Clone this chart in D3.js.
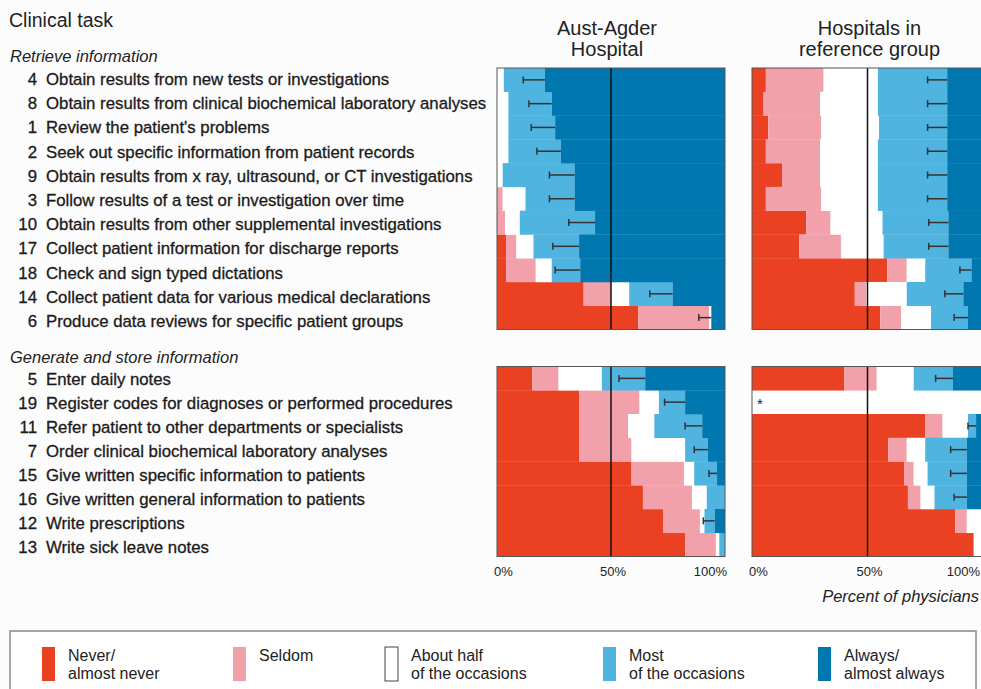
<!DOCTYPE html>
<html>
<head>
<meta charset="utf-8">
<script src="https://cdn.jsdelivr.net/npm/d3@7"></script>
<style>
  body { margin: 0; background: #fcfcfd; }
  svg { display: block; font-family: "Liberation Sans", Arial, sans-serif; }
</style>
</head>
<body>
<div id="chart"></div>
<script>
// response categories, in stacking order
const responseKeys = ["never", "seldom", "half", "most", "always"];
const responseColors = ["#eb4123", "#f2a0aa", "#ffffff", "#50b4e1", "#0078af"];
const legendLabels = [["Never/", "almost never"], ["Seldom"], ["About half", "of the occasions"], ["Most", "of the occasions"], ["Always/", "almost always"]];

// clinical tasks
const retrieveIds = [4, 8, 1, 2, 9, 3, 10, 17, 18, 14, 6];
const retrieveTasks = [
  "Obtain results from new tests or investigations",
  "Obtain results from clinical biochemical laboratory analyses",
  "Review the patient's problems",
  "Seek out specific information from patient records",
  "Obtain results from x ray, ultrasound, or CT investigations",
  "Follow results of a test or investigation over time",
  "Obtain results from other supplemental investigations",
  "Collect patient information for discharge reports",
  "Check and sign typed dictations",
  "Collect patient data for various medical declarations",
  "Produce data reviews for specific patient groups"
];
const generateIds = [5, 19, 11, 7, 15, 16, 12, 13];
const generateTasks = [
  "Enter daily notes",
  "Register codes for diagnoses or performed procedures",
  "Refer patient to other departments or specialists",
  "Order clinical biochemical laboratory analyses",
  "Give written specific information to patients",
  "Give written general information to patients",
  "Write prescriptions",
  "Write sick leave notes"
];

// Aust-Agder Hospital, retrieve information (% of physicians)
const aaRetNever  = [0, 0, 0, 0, 0, 0, 0, 4, 4, 38, 62];
const aaRetSeldom = [0, 0, 0, 0, 0, 2.5, 3.5, 4.5, 13, 12, 31];
const aaRetHalf   = [3, 5, 5, 5, 2.5, 10, 6.5, 7.5, 7, 8, 1];
const aaRetMost   = [18, 19, 20.5, 23, 31.5, 21.5, 33, 20, 12.5, 19, 0];
const aaRetAlways = [79, 76, 74.5, 72, 66, 66, 57, 64, 63.5, 23, 6];
const aaRetErr    = [9.5, 10, 10.5, 10.5, 11, 11, 11.5, 11.5, 11, 10, 5.5];

// Hospitals in reference group, retrieve information
const refRetNever  = [6, 5, 7, 6, 13, 6, 23.5, 20.5, 58.5, 44.5, 55.5];
const refRetSeldom = [25, 24.5, 23, 23.5, 16.5, 24, 10.5, 18, 8.5, 5, 9];
const refRetHalf   = [23.5, 25, 25, 25, 25, 24.5, 22.5, 18.5, 8, 17.5, 13];
const refRetMost   = [30, 30, 29.5, 30, 30, 30, 28.5, 28, 20, 24.5, 16];
const refRetAlways = [15.5, 15.5, 15.5, 15.5, 15.5, 15.5, 15, 15, 5, 8.5, 6.5];
const refRetErr    = [8.5, 8.5, 8.5, 8.5, 8.5, 8.5, 8.5, 8.5, 5, 8, 6];

// Aust-Agder Hospital, generate and store information
const aaGenNever  = [15.5, 36, 36, 36, 59, 64, 73, 82.5];
const aaGenSeldom = [11.5, 26.5, 21.5, 23, 23, 21.5, 16, 13.5];
const aaGenHalf   = [19, 8.5, 11.5, 23.5, 4.5, 6.5, 2, 1.5];
const aaGenMost   = [19, 11.5, 21, 10, 10, 8, 4.5, 2.5];
const aaGenAlways = [35, 17.5, 10, 7.5, 3.5, 0, 4.5, 0];
const aaGenErr    = [11.5, 9, 7.5, 6, 3.5, null, 5, null];

// Hospitals in reference group, generate and store information (task 19 not asked: *)
const refGenNever  = [40, null, 75, 59, 66, 67.5, 88, 96];
const refGenSeldom = [14, null, 7.5, 8, 4, 5.5, 5, 0];
const refGenHalf   = [16, null, 11, 8, 6, 6, 7, 4];
const refGenMost   = [17, null, 3.5, 18, 17, 14, 0, 0];
const refGenAlways = [13, null, 3, 7, 7, 7, 0, 0];
const refGenErr    = [7.5, null, 3.5, 7, 7, 5.5, null, null];

const width = 981, height = 689;

const svg = d3.select("#chart").append("svg")
  .attr("width", width)
  .attr("height", height);

const xLeft = d3.scaleLinear().domain([0, 100]).range([497, 725]);
const xRight = d3.scaleLinear().domain([0, 100]).range([752, 983]);
const yTop = d3.scaleBand().domain(retrieveIds).range([68, 329.5]);
const yBottom = d3.scaleBand().domain(generateIds).range([366.5, 556.5]);

function rows(ids, never, seldom, half, most, always, err) {
  return ids.map((id, i) => ({
    id, never: never[i], seldom: seldom[i], half: half[i], most: most[i], always: always[i],
    err: err[i], missing: never[i] === null
  }));
}

function drawPanel(data, x, y) {
  const g = svg.append("g");
  const valid = data.filter(d => !d.missing);
  const series = d3.stack().keys(responseKeys)(valid);

  // white panel background
  g.append("rect")
    .attr("x", x(0)).attr("y", y.range()[0])
    .attr("width", x(100) - x(0)).attr("height", y.range()[1] - y.range()[0])
    .attr("fill", "#fff");

  g.selectAll("g.series")
    .data(series)
    .join("g")
    .attr("class", "series")
    .attr("fill", (d, i) => responseColors[i])
    .selectAll("rect")
    .data(d => d)
    .join("rect")
    .attr("x", d => x(d[0]))
    .attr("y", d => y(d.data.id))
    .attr("width", d => Math.max(0, x(d[1]) - x(d[0])))
    .attr("height", y.bandwidth() + 0.3);

  // error bars: left half of the interval around the most+always split
  const eb = g.selectAll("g.err")
    .data(valid.filter(d => d.err !== null))
    .join("g")
    .attr("class", "err")
    .attr("stroke", "#333")
    .attr("stroke-width", 1.5);
  const split = d => d.never + d.seldom + d.half + d.most;
  eb.append("line")
    .attr("x1", d => x(split(d) - d.err))
    .attr("x2", d => x(split(d)))
    .attr("y1", d => y(d.id) + y.bandwidth() / 2)
    .attr("y2", d => y(d.id) + y.bandwidth() / 2);
  eb.append("line")
    .attr("x1", d => x(split(d) - d.err))
    .attr("x2", d => x(split(d) - d.err))
    .attr("y1", d => y(d.id) + y.bandwidth() / 2 - 3.5)
    .attr("y2", d => y(d.id) + y.bandwidth() / 2 + 3.5);

  // asterisk for missing rows
  g.selectAll("text.miss")
    .data(data.filter(d => d.missing))
    .join("text")
    .attr("class", "miss")
    .attr("x", x(0) + 5)
    .attr("y", d => y(d.id) + y.bandwidth() / 2 + 7)
    .attr("font-size", 15)
    .attr("fill", "#222")
    .text("*");

  // 50% line
  g.append("line")
    .attr("x1", x(50)).attr("x2", x(50))
    .attr("y1", y.range()[0]).attr("y2", y.range()[1])
    .attr("stroke", "#111").attr("stroke-width", 1.5);

  // frame
  g.append("rect")
    .attr("x", x(0)).attr("y", y.range()[0])
    .attr("width", x(100) - x(0)).attr("height", y.range()[1] - y.range()[0])
    .attr("fill", "none")
    .attr("stroke", "#555").attr("stroke-width", 1);
}

drawPanel(rows(retrieveIds, aaRetNever, aaRetSeldom, aaRetHalf, aaRetMost, aaRetAlways, aaRetErr), xLeft, yTop);
drawPanel(rows(retrieveIds, refRetNever, refRetSeldom, refRetHalf, refRetMost, refRetAlways, refRetErr), xRight, yTop);
drawPanel(rows(generateIds, aaGenNever, aaGenSeldom, aaGenHalf, aaGenMost, aaGenAlways, aaGenErr), xLeft, yBottom);
drawPanel(rows(generateIds, refGenNever, refGenSeldom, refGenHalf, refGenMost, refGenAlways, refGenErr), xRight, yBottom);

// percent ticks under the bottom panels
[xLeft, xRight].forEach(x => {
  svg.append("g")
    .attr("font-size", 13)
    .attr("fill", "#222")
    .selectAll("text")
    .data([0, 50, 100])
    .join("text")
    .attr("x", d => d === 0 ? x(d) - 3 : d === 100 ? Math.min(x(d) + 2, 980) : x(d) + 2)
    .attr("y", 576)
    .attr("text-anchor", d => d === 0 ? "start" : d === 100 ? "end" : "middle")
    .text(d => d + "%");
});

svg.append("text")
  .attr("x", 979).attr("y", 602)
  .attr("text-anchor", "end")
  .attr("font-size", 16.5).attr("font-style", "italic")
  .attr("fill", "#222")
  .text("Percent of physicians");

// headers
svg.append("text")
  .attr("x", 9).attr("y", 27)
  .attr("font-size", 19.5).attr("fill", "#222")
  .text("Clinical task");

const headers = [[xLeft, -4, ["Aust-Agder", "Hospital"]], [xRight, 2, ["Hospitals in", "reference group"]]];
headers.forEach(([x, dx, lines]) => {
  svg.append("text")
    .attr("font-size", 20).attr("fill", "#222")
    .attr("text-anchor", "middle")
    .selectAll("tspan")
    .data(lines)
    .join("tspan")
    .attr("x", x(50) + dx)
    .attr("y", (d, i) => 35 + i * 21)
    .text(d => d);
});

// group titles and task labels
function drawLabels(title, titleY, ids, tasks, y0, y1) {
  const ly = d3.scalePoint().domain(ids).range([y0, y1]);
  svg.append("text")
    .attr("x", 10).attr("y", titleY)
    .attr("font-size", 16.5).attr("font-style", "italic")
    .attr("fill", "#222")
    .text(title);
  const g = svg.append("g")
    .attr("font-size", 16.8)
    .attr("fill", "#1a1a1a")
    .attr("stroke", "#1a1a1a")
    .attr("stroke-width", 0.3);
  g.selectAll("text.num")
    .data(ids)
    .join("text")
    .attr("class", "num")
    .attr("x", 37)
    .attr("y", d => ly(d) + 6)
    .attr("text-anchor", "end")
    .text(d => d);
  g.selectAll("text.task")
    .data(tasks)
    .join("text")
    .attr("class", "task")
    .attr("x", 46)
    .attr("y", (d, i) => ly(ids[i]) + 6)
    .text(d => d);
}
drawLabels("Retrieve information", 62, retrieveIds, retrieveTasks, 79, 321);
drawLabels("Generate and store information", 363, generateIds, generateTasks, 379, 547);

// legend
svg.append("rect")
  .attr("x", 10).attr("y", 631)
  .attr("width", 966).attr("height", 70)
  .attr("fill", "#fff")
  .attr("stroke", "#888").attr("stroke-width", 1.5);

const legendX = [42, 233, 385, 603, 818];
const lg = svg.append("g").selectAll("g")
  .data(responseKeys)
  .join("g")
  .attr("transform", (d, i) => `translate(${legendX[i]},647)`);
lg.append("rect")
  .attr("width", 13).attr("height", 34)
  .attr("fill", (d, i) => responseColors[i])
  .attr("stroke", (d, i) => i === 2 ? "#444" : "none")
  .attr("stroke-width", 1);
lg.append("text")
  .attr("font-size", 16)
  .attr("fill", "#222")
  .selectAll("tspan")
  .data((d, i) => legendLabels[i])
  .join("tspan")
  .attr("x", 26)
  .attr("y", (d, i) => 14 + i * 18)
  .text(d => d);
</script>
</body>
</html>
